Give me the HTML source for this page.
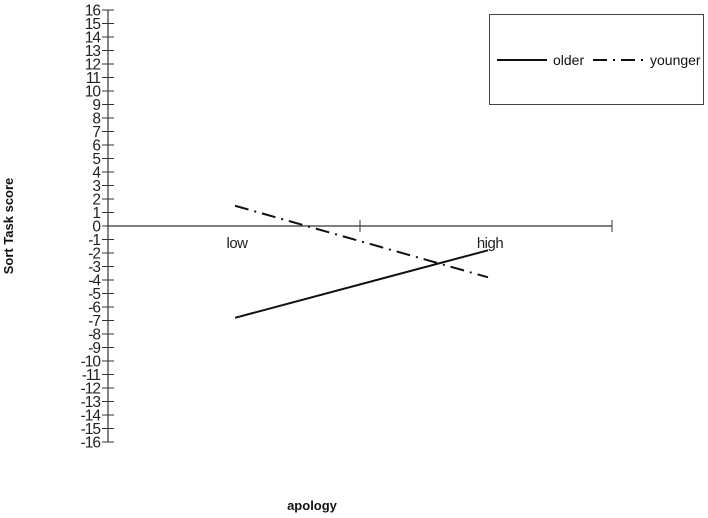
<!DOCTYPE html>
<html><head><meta charset="utf-8"><style>
body{margin:0;background:#fff;}
svg{display:block;font-family:"Liberation Sans",Arial,sans-serif;}
</style></head><body>
<svg id="chart" width="708" height="518" viewBox="0 0 708 518">
<g id="axes"></g>
<g id="series"></g>
<text x="13" y="226" transform="rotate(-90 13 226)" text-anchor="middle" font-size="13" font-weight="bold" fill="#111">Sort Task score</text>
<text x="312" y="510" text-anchor="middle" font-size="13" font-weight="bold" fill="#111">apology</text>
<g>
<rect x="489.5" y="14.5" width="214" height="90" fill="#fff" stroke="#444" stroke-width="1"/>
<line x1="497" y1="60" x2="547" y2="60" stroke="#111" stroke-width="2"/>
<text x="553" y="65" font-size="14" fill="#111">older</text>
<line x1="593" y1="60" x2="643" y2="60" stroke="#111" stroke-width="2" stroke-dasharray="14,6,2,6"/>
<text x="650" y="65" font-size="14" fill="#111">younger</text>
</g>
</svg>
<script>
const categories = ["low", "high"];
const olderValues = [-6.8, -1.8];
const youngerValues = [1.5, -3.8];
const yTicks = [16,15,14,13,12,11,10,9,8,7,6,5,4,3,2,1,0,-1,-2,-3,-4,-5,-6,-7,-8,-9,-10,-11,-12,-13,-14,-15,-16];

const NS = "http://www.w3.org/2000/svg";
function y(v){ return 226 - v*13.5; }
function x(i){ return 235 + i*253; }
function mk(tag, attrs, parent){ const e=document.createElementNS(NS,tag); for(const k in attrs) e.setAttribute(k,attrs[k]); parent.appendChild(e); return e; }
const axes = document.getElementById('axes');
const ya = mk('line',{x1:108,y1:y(16),x2:108,y2:y(-16),stroke:'#333','stroke-width':1.2},axes);


yTicks.forEach(t=>{
  const l = mk('line',{x1:102,y1:y(t),x2:114,y2:y(t),stroke:'#333','stroke-width':1},axes);
  
  
  const tx = mk('text',{x:100,y:y(t)+5.5,'text-anchor':'end','font-size':15.5,fill:'#222','letter-spacing':'-1'},axes);
  tx.textContent = t;
  
  
});
const xa = mk('line',{x1:108,y1:y(0),x2:612,y2:y(0),stroke:'#333','stroke-width':1.2},axes);


[360,612].forEach(px=>{
  const l = mk('line',{x1:px,y1:y(0)-6,x2:px,y2:y(0)+6,stroke:'#333','stroke-width':1},axes);
  
  
});
categories.forEach((c,i)=>{
  const tx = mk('text',{x:x(i)+2,y:y(0)+22,'text-anchor':'middle','font-size':15,fill:'#222','letter-spacing':'-0.5'},axes);
  tx.textContent = c;
  
  
});
const series = document.getElementById('series');
function pts(vals){ return vals.map((v,i)=>x(i)+','+y(v)).join(' '); }
const o = mk('polyline',{points:pts(olderValues),fill:'none',stroke:'#111','stroke-width':2},series);


const yl = mk('polyline',{points:pts(youngerValues),fill:'none',stroke:'#111','stroke-width':2,'stroke-dasharray':'14,6,2,6'},series);


</script>
</body></html>
